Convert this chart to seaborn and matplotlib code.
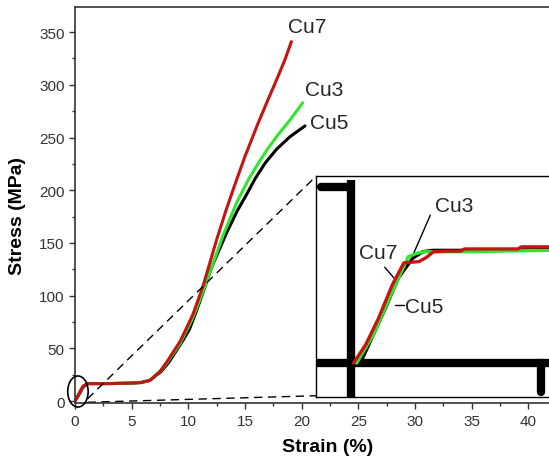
import numpy as np
import pandas as pd
import matplotlib
matplotlib.use("Agg")
import matplotlib.pyplot as plt
from matplotlib.patches import Ellipse
from matplotlib.ticker import MultipleLocator
import seaborn as sns

# ---------------- data ----------------
strain_cu7 = [0, 0.3, 0.7, 1.1, 2.0, 3.0, 4.0, 5.0, 5.8, 6.6, 7.5, 8.1, 9.3, 10.4, 11.3, 12.5,
              13.3, 14.1, 15.0, 16.1, 17.0, 17.8, 18.5, 19.1]
stress_cu7 = [0, 6, 14, 16.5, 16.5, 16.5, 16.8, 17, 17.5, 19.5, 28, 37, 57, 82, 109, 153,
              180, 205, 232, 262, 285, 305, 323, 341]

strain_cu3 = [0, 0.3, 0.7, 1.1, 2.0, 3.0, 4.0, 5.0, 5.8, 6.6, 7.5, 8.1, 9.3, 10.4, 11.3, 12.0,
              13.1, 14.3, 15.3, 16.2, 17.0, 17.8, 19.0, 20.1]
stress_cu3 = [0, 6, 14, 16.5, 16.5, 16.5, 16.8, 17, 17.5, 19.5, 28, 36, 55, 79, 104, 125,
              158, 189, 210, 226, 239, 251, 267, 283]

strain_cu5 = [0, 0.3, 0.7, 1.1, 2.0, 3.0, 4.0, 5.0, 5.8, 6.6, 7.6, 8.3, 9.5, 10.1, 10.6, 11.2,
              12.1, 13.4, 14.3, 15.2, 15.9, 16.8, 17.8, 19.0, 20.3]
stress_cu5 = [0, 5, 13, 16.5, 16.5, 16.5, 16.8, 17, 17.5, 19.5, 28, 37, 57, 68, 82, 100,
              128, 160, 180, 197, 211, 226, 239, 251, 261]

# zoomed-in initial region (inset, own units)
ins_cu7_x = [0.04, 0.2, 0.37, 0.55, 0.70, 0.78, 0.90, 1.0, 1.09, 1.25, 1.45, 1.5, 2.2, 2.25, 2.64]
ins_cu7_y = [0, 2.6, 6.4, 11.1, 14.2, 14.3, 14.4, 15.0, 15.8, 15.9, 15.9, 16.2, 16.2, 16.5, 16.5]
ins_cu3_x = [0.08, 0.3, 0.59, 0.76, 0.88, 0.97, 1.2, 1.6, 2.0, 2.64]
ins_cu3_y = [0, 4.0, 11.1, 15.1, 15.6, 15.8, 15.8, 15.8, 15.9, 16.0]
ins_cu5_x = [0.13, 0.46, 0.63, 0.82, 0.95, 1.08, 1.5, 2.64]
ins_cu5_y = [0, 7.8, 12.1, 14.9, 15.8, 16.0, 16.0, 16.1]

series = ["Cu5", "Cu3", "Cu7"]
colors = {"Cu5": "#000000", "Cu3": "#2fe62f", "Cu7": "#c41414"}

main_df = pd.concat([
    pd.DataFrame({"Strain": strain_cu5, "Stress": stress_cu5, "Sample": "Cu5"}),
    pd.DataFrame({"Strain": strain_cu3, "Stress": stress_cu3, "Sample": "Cu3"}),
    pd.DataFrame({"Strain": strain_cu7, "Stress": stress_cu7, "Sample": "Cu7"}),
], ignore_index=True)
inset_df = pd.concat([
    pd.DataFrame({"x": ins_cu5_x, "y": ins_cu5_y, "Sample": "Cu5"}),
    pd.DataFrame({"x": ins_cu3_x, "y": ins_cu3_y, "Sample": "Cu3"}),
    pd.DataFrame({"x": ins_cu7_x, "y": ins_cu7_y, "Sample": "Cu7"}),
], ignore_index=True)

# ---------------- style ----------------
sns.set_style("ticks")
plt.rcParams["font.family"] = ["Liberation Sans", "DejaVu Sans"]

fig = plt.figure(figsize=(5.49, 4.60), dpi=100)
ax = fig.add_axes([0.1366, 0.1215, 0.8668, 0.8615])

sns.lineplot(data=main_df, x="Strain", y="Stress", hue="Sample", hue_order=series,
             palette=colors, sort=False, estimator=None, linewidth=2.2, legend=False, ax=ax)

ax.set_xlim(0, 42)
ax.set_ylim(-2, 374)
ax.xaxis.set_major_locator(MultipleLocator(5))
ax.xaxis.set_minor_locator(MultipleLocator(2.5))
ax.yaxis.set_major_locator(MultipleLocator(50))
ax.yaxis.set_minor_locator(MultipleLocator(25))
ax.tick_params(which="major", direction="out", length=4, width=1, colors="#333333",
               labelsize=11, labelcolor="#333333")
ax.tick_params(which="minor", direction="out", length=2.5, width=1, colors="#333333")
ax.spines["right"].set_visible(False)
for s in ["left", "bottom", "top"]:
    ax.spines[s].set_color("#333333")
    ax.spines[s].set_linewidth(1.2)

ax.set_xlabel("Strain (%)", fontsize=14, fontweight="bold", color="black")
ax.set_ylabel("Stress (MPa)", fontsize=14, fontweight="bold", color="black")
ax.xaxis.set_label_coords(0.53, -0.088)
ax.yaxis.set_label_coords(-0.104, 0.475)

ax.text(20.5, 355, "Cu7", fontsize=15, ha="center", va="center")
ax.text(22.0, 296, "Cu3", fontsize=15, ha="center", va="center")
ax.text(22.4, 264, "Cu5", fontsize=15, ha="center", va="center")

# ellipse around origin and dashed zoom connectors
ax.add_patch(Ellipse((0.26, 9), 1.8, 29.5, fill=False, edgecolor="black", lw=1.2,
                     clip_on=False, zorder=5))
ax.plot([1.1, 21.3], [2, 213.5], ls=(0, (6, 4)), color="black", lw=1.0, clip_on=False)
ax.plot([1.1, 21.3], [-1.2, 5.0], ls=(0, (6, 4)), color="black", lw=1.0, clip_on=False)

# ---------------- inset ----------------
ins = fig.add_axes([0.5756, 0.1348, 0.4281, 0.4804])
ins.set_xlim(-0.454, 2.638)
ins.set_ylim(-4.83, 26.56)
# magnified axis lines of the main plot
thick = dict(color="black", lw=6, solid_capstyle="round", zorder=2)
ins.plot([0, 0], [-6, 26.0], color="black", lw=6, solid_capstyle="butt", zorder=2)
ins.plot([-0.6, 3.0], [0, 0], color="black", lw=6, solid_capstyle="butt", zorder=2)
ins.plot([-0.39, 0], [25, 25], **thick)
ins.plot([2.5, 2.5], [0, -4.1], **thick)

sns.lineplot(data=inset_df, x="x", y="y", hue="Sample", hue_order=series, palette=colors,
             sort=False, estimator=None, linewidth=2.4, legend=False, ax=ins, zorder=3)

ins.set_xticks([])
ins.set_yticks([])
ins.set_xlabel("")
ins.set_ylabel("")
ins.spines["right"].set_visible(False)
for s in ["left", "bottom", "top"]:
    ins.spines[s].set_color("black")
    ins.spines[s].set_linewidth(1.0)

ins.text(1.36, 22.4, "Cu3", fontsize=15, ha="center", va="center")
ins.plot([1.05, 0.82], [21.0, 15.3], color="black", lw=1.0)
ins.text(0.37, 15.7, "Cu7", fontsize=15, ha="center", va="center")
ins.plot([0.45, 0.57], [13.6, 12.1], color="black", lw=1.0)
ins.text(0.97, 8.0, "Cu5", fontsize=15, ha="center", va="center")
ins.plot([0.58, 0.70], [8.2, 8.2], color="black", lw=1.0)

fig.savefig("out.png", dpi=100)
